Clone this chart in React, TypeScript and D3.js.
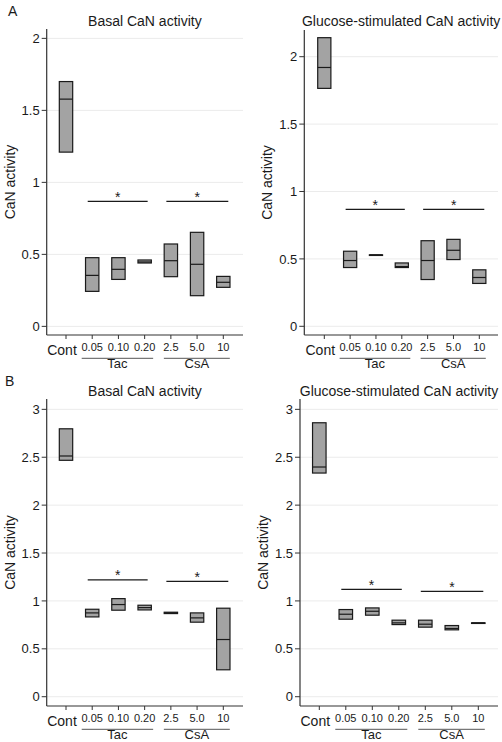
import React from "react";
import * as d3 from "d3";

const categories = ["Cont", "0.05", "0.10", "0.20", "2.5", "5.0", "10"];

const aBasalLower = [1.21, 0.243, 0.326, 0.44, 0.345, 0.213, 0.271];
const aBasalMedian = [1.578, 0.354, 0.396, 0.447, 0.456, 0.431, 0.306];
const aBasalUpper = [1.7, 0.477, 0.477, 0.461, 0.572, 0.653, 0.347];

const aGlucLower = [1.765, 0.436, 0.53, 0.436, 0.347, 0.495, 0.318];
const aGlucMedian = [1.92, 0.488, 0.53, 0.443, 0.488, 0.564, 0.362];
const aGlucUpper = [2.141, 0.557, 0.53, 0.47, 0.635, 0.645, 0.419];

const bBasalLower = [2.468, 0.833, 0.903, 0.906, 0.868, 0.778, 0.281];
const bBasalMedian = [2.513, 0.875, 0.962, 0.93, 0.875, 0.823, 0.597];
const bBasalUpper = [2.797, 0.913, 1.024, 0.955, 0.882, 0.875, 0.924];

const bGlucLower = [2.335, 0.809, 0.851, 0.753, 0.726, 0.698, 0.771];
const bGlucMedian = [2.398, 0.861, 0.892, 0.771, 0.757, 0.712, 0.771];
const bGlucUpper = [2.86, 0.91, 0.927, 0.799, 0.799, 0.743, 0.771];

const ticksA = [0, 0.5, 1, 1.5, 2];
const ticksB = [0, 0.5, 1, 1.5, 2, 2.5, 3];
const tickLabelsA = ["0", "0.5", "1", "1.5", "2"];
const tickLabelsB = ["0", "0.5", "1", "1.5", "2", "2.5", "3"];

const groups = [
  { name: "Tac", from: "0.05", to: "0.20" },
  { name: "CsA", from: "2.5", to: "10" },
];

const sigA1 = [0.868, 0.868];
const sigA2 = [0.867, 0.867];
const sigB1 = [1.219, 1.205];
const sigB2 = [1.121, 1.1];

const titles = ["Basal CaN activity", "Glucose-stimulated CaN activity"];
const yLabel = "CaN activity";

const FONT = "'Liberation Sans', Arial, Helvetica, sans-serif";
const TEXT = "#1a1a1a";

type PanelProps = {
  title: string;
  left: number;
  right: number;
  top: number;
  bottom: number;
  catRange: [number, number];
  yDomain: [number, number];
  ticks: number[];
  tickLabels: string[];
  lower: number[];
  median: number[];
  upper: number[];
  sig: number[];
  labelX: number;
  titleY: number;
};

function Panel(p: PanelProps) {
  const x = d3.scalePoint<string>().domain(categories).range(p.catRange);
  const y = d3.scaleLinear().domain(p.yDomain).range([p.bottom, p.top]);
  const step = x.step();
  const bw = step * 0.51;
  const midY = (p.top + p.bottom) / 2;
  const midX = (p.left + p.right) / 2;
  return (
    <g fontFamily={FONT} fill={TEXT}>
      <text x={midX} y={p.titleY} fontSize={14} textAnchor="middle">
        {p.title}
      </text>
      {p.ticks.map((t) => (
        <line
          key={"g" + t}
          x1={p.left}
          x2={p.right}
          y1={y(t)}
          y2={y(t)}
          stroke="#ebebeb"
          strokeWidth={1}
        />
      ))}
      {p.ticks.map((t, i) => (
        <g key={"t" + t}>
          <line x1={p.left - 5} x2={p.left} y1={y(t)} y2={y(t)} stroke="#333" />
          <text
            x={p.left - 7}
            y={y(t)}
            dy="0.36em"
            fontSize={13}
            textAnchor="end"
          >
            {p.tickLabels[i]}
          </text>
        </g>
      ))}
      <text
        transform={`translate(${p.labelX},${midY}) rotate(-90)`}
        fontSize={14}
        textAnchor="middle"
      >
        {yLabel}
      </text>
      {categories.map((c, i) => {
        const cx = x(c) as number;
        return (
          <g key={c}>
            <rect
              x={cx - bw / 2}
              y={y(p.upper[i])}
              width={bw}
              height={Math.max(y(p.lower[i]) - y(p.upper[i]), 0.6)}
              fill="#a3a3a3"
              stroke="#1a1a1a"
              strokeWidth={1.2}
            />
            <line
              x1={cx - bw / 2}
              x2={cx + bw / 2}
              y1={y(p.median[i])}
              y2={y(p.median[i])}
              stroke="#1a1a1a"
              strokeWidth={1.2}
            />
            <line
              x1={cx}
              x2={cx}
              y1={p.bottom}
              y2={p.bottom + 4}
              stroke="#333"
            />
            {i === 0 ? (
              <text x={cx - 4} y={p.bottom + 20} fontSize={14} textAnchor="middle">
                {c}
              </text>
            ) : (
              <text x={cx} y={p.bottom + 15.7} fontSize={11} textAnchor="middle">
                {c}
              </text>
            )}
          </g>
        );
      })}
      {groups.map((g, i) => {
        const x1 = (x(g.from) as number) - 4.5;
        const x2 = (x(g.to) as number) + (i === 0 ? 3 : 5);
        const yy = y(p.sig[i]);
        const ux1 = (x(g.from) as number) - (i === 0 ? 10.5 : 7);
        const ux2 = (x(g.to) as number) + (i === 0 ? 8.5 : 6.5);
        return (
          <g key={g.name}>
            <line x1={x1} x2={x2} y1={yy} y2={yy} stroke="#1a1a1a" strokeWidth={1.3} />
            <text x={(x1 + x2) / 2} y={yy + 0.5} fontSize={14} textAnchor="middle">
              *
            </text>
            <line
              x1={ux1}
              x2={ux2}
              y1={p.bottom + 23.3}
              y2={p.bottom + 23.3}
              stroke="#555"
              strokeWidth={1}
            />
            <text
              x={(ux1 + ux2) / 2}
              y={p.bottom + 33}
              fontSize={13}
              textAnchor="middle"
            >
              {g.name}
            </text>
          </g>
        );
      })}
      <line x1={p.left} x2={p.left} y1={p.top} y2={p.bottom} stroke="#333" strokeWidth={1.2} />
      <line x1={p.left} x2={p.right} y1={p.bottom} y2={p.bottom} stroke="#333" strokeWidth={1.2} />
    </g>
  );
}

export default function App() {
  return (
    <svg
      width={502}
      height={742}
      style={{ position: "absolute", left: 0, top: 0, background: "#fff" }}
    >
      <rect width={502} height={742} fill="#fff" />
      <text x={8} y={15.5} fontSize={14} fontFamily={FONT} fill={TEXT}>
        A
      </text>
      <text x={5} y={386} fontSize={14} fontFamily={FONT} fill={TEXT}>
        B
      </text>
      <Panel
        title={titles[0]}
        left={46.7}
        right={243}
        top={29}
        bottom={335}
        catRange={[66, 223.3]}
        yDomain={[-0.06, 2.065]}
        ticks={ticksA}
        tickLabels={tickLabelsA}
        lower={aBasalLower}
        median={aBasalMedian}
        upper={aBasalUpper}
        sig={sigA1}
        labelX={15}
        titleY={25.7}
      />
      <Panel
        title={titles[1]}
        left={304.3}
        right={498}
        top={30}
        bottom={335}
        catRange={[324.3, 479.3]}
        yDomain={[-0.0645, 2.198]}
        ticks={ticksA}
        tickLabels={tickLabelsA}
        lower={aGlucLower}
        median={aGlucMedian}
        upper={aGlucUpper}
        sig={sigA2}
        labelX={272}
        titleY={25.7}
      />
      <Panel
        title={titles[0]}
        left={46.7}
        right={243}
        top={399}
        bottom={706}
        catRange={[66, 223.3]}
        yDomain={[-0.097, 3.108]}
        ticks={ticksB}
        tickLabels={tickLabelsB}
        lower={bBasalLower}
        median={bBasalMedian}
        upper={bBasalUpper}
        sig={sigB1}
        labelX={15}
        titleY={396}
      />
      <Panel
        title={titles[1]}
        left={300}
        right={498}
        top={399}
        bottom={706}
        catRange={[319.3, 478.3]}
        yDomain={[-0.097, 3.108]}
        ticks={ticksB}
        tickLabels={tickLabelsB}
        lower={bGlucLower}
        median={bGlucMedian}
        upper={bGlucUpper}
        sig={sigB2}
        labelX={268}
        titleY={396}
      />
    </svg>
  );
}
